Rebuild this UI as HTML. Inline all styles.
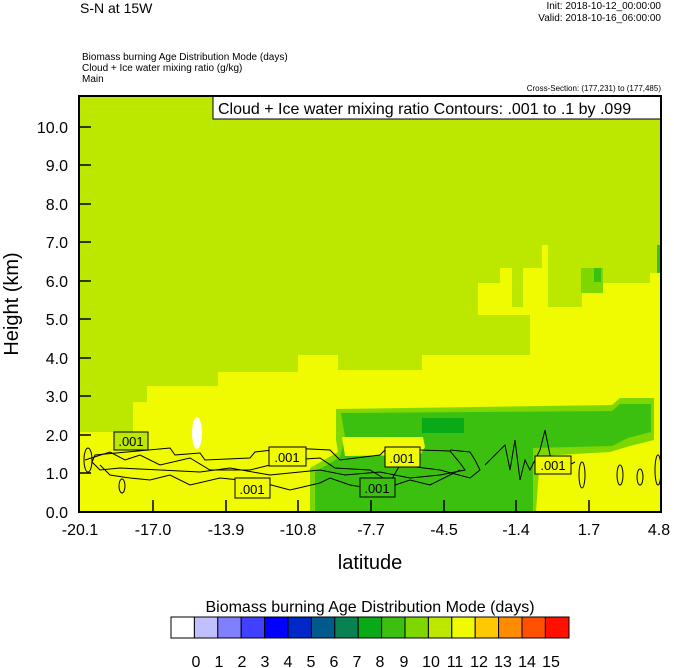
<!DOCTYPE html>
<html><head><style>body{margin:0;background:#fff}svg{display:block}</style></head>
<body>
<svg width="674" height="668" viewBox="0 0 674 668" xmlns="http://www.w3.org/2000/svg" font-family="Liberation Sans, sans-serif">
<rect width="674" height="668" fill="#fff"/>
<text x="80" y="13" font-size="14">S-N at 15W</text>
<text x="661" y="9" font-size="10" text-anchor="end">Init: 2018-10-12_00:00:00</text>
<text x="661" y="21" font-size="10" text-anchor="end">Valid: 2018-10-16_06:00:00</text>
<text x="82" y="60" font-size="10">Biomass burning Age Distribution Mode   (days)</text>
<text x="82" y="71" font-size="10">Cloud + Ice water mixing ratio   (g/kg)</text>
<text x="82" y="82" font-size="10">Main</text>
<text x="661" y="91" font-size="8" text-anchor="end">Cross-Section: (177,231) to (177,485)</text>
<!-- plot -->
<rect x="79" y="96" width="582" height="416" fill="#f0fa00"/>
<polygon fill="#bce800" points="79,96 661,96 661,273 650,273 650,283 582,283 582,307 548,307 548,245 542,245 542,268 523,268 523,307 512,307 512,268 500,268 500,283 478,283 478,315 530,315 530,355 422,355 422,370 338,370 338,355 298,355 298,372 218,372 218,386 147,386 147,402 133,402 133,432 79,432"/>
<rect x="581" y="268" width="22" height="25" fill="#7ed800"/>
<rect x="594" y="268" width="7" height="14" fill="#3cc010"/>
<rect x="657" y="245" width="4" height="28" fill="#3cc010"/>
<!-- green band -->
<path fill="#7ed800" d="M336,409 L612,405 L620,398 L654,398 L654,440 L630,446 L610,452 L540,456 L536,512 L310,512 L310,468 L338,452 L336,440 Z"/>
<path fill="#3cc010" d="M341,413 L612,411 L620,404 L651,404 L651,432 L628,438 L612,446 L533,448 L533,512 L315,512 L315,472 L340,457 L345,437 Z"/>
<path fill="#f0fa00" d="M342,437 L423,437 L425,447 L420,455 L345,456 Z"/>
<rect x="422" y="418" width="42" height="15" fill="#08aa18"/>
<ellipse cx="197" cy="433" rx="5" ry="16" fill="#fff"/>
<!-- contours -->
<g fill="none" stroke="#000" stroke-width="1">
<path d="M95,455 L170,448 L175,455 L200,453 L205,460 L250,458 L255,452 L290,448 L330,450 L340,460 L380,455 L385,450 L420,450 L450,451 L460,463 L465,470 L440,475 L410,478 L380,472 L345,475 L320,470 L270,475 L230,468 L200,472 L160,470 L120,468 L100,470 L92,462 Z"/>
<path d="M85,460 L110,452 L125,460 L140,455 L160,465 L190,458 L210,470 L250,470 L290,460 L320,458 L335,468 L370,470 L390,482 L400,465 L440,470 L470,478 L480,470 L475,460 L470,452 L450,450"/>
<path d="M100,465 L110,475 L130,478 L150,480 L170,475 L190,485 L220,478 L260,482 L290,490 L320,483 L330,478 L350,485 L380,490 L410,480 L430,485 L460,470"/>
<path d="M485,465 L495,455 L505,445 L510,470 L515,440 L520,480 L525,460 L530,470 L540,450 L545,430 L550,455 L560,470 L575,462"/>
<ellipse cx="620" cy="475" rx="3" ry="10"/><ellipse cx="640" cy="477" rx="3" ry="8"/><ellipse cx="658" cy="470" rx="3" ry="15"/>
<ellipse cx="582" cy="475" rx="3" ry="13"/><ellipse cx="122" cy="486" rx="3" ry="7"/><ellipse cx="88" cy="460" rx="4" ry="12"/>
</g>
<g font-size="13" text-anchor="middle">
<rect x="114" y="432" width="34" height="18" fill="#bce800" stroke="#000"/><text x="131" y="446">.001</text>
<rect x="269" y="447" width="37" height="19" fill="#f0fa00" stroke="#000"/><text x="287" y="462">.001</text>
<rect x="235" y="478" width="35" height="20" fill="#f0fa00" stroke="#000"/><text x="252" y="494">.001</text>
<rect x="385" y="447" width="35" height="20" fill="#f0fa00" stroke="#000"/><text x="402" y="463">.001</text>
<rect x="360" y="478" width="35" height="19" fill="#3cc010" stroke="#000"/><text x="377" y="493">.001</text>
<rect x="535" y="456" width="36" height="18" fill="#f0fa00" stroke="#000"/><text x="553" y="470">.001</text>
</g>
<!-- legend box -->
<rect x="213" y="96" width="448" height="23" fill="#fff" stroke="#000"/>
<text x="218" y="114" font-size="16">Cloud + Ice water mixing ratio Contours: .001 to .1 by .099</text>
<rect x="79" y="96" width="582" height="416" fill="none" stroke="#000" stroke-width="2"/>
<!-- ticks -->
<g stroke="#000" stroke-width="1.5">
<line x1="79" y1="127" x2="91" y2="127"/><line x1="79" y1="165" x2="91" y2="165"/><line x1="79" y1="204" x2="91" y2="204"/><line x1="79" y1="242" x2="91" y2="242"/><line x1="79" y1="281" x2="91" y2="281"/><line x1="79" y1="319" x2="91" y2="319"/><line x1="79" y1="358" x2="91" y2="358"/><line x1="79" y1="396" x2="91" y2="396"/><line x1="79" y1="435" x2="91" y2="435"/><line x1="79" y1="473" x2="91" y2="473"/>
<line x1="153" y1="512" x2="153" y2="500"/><line x1="226" y1="512" x2="226" y2="500"/><line x1="298" y1="512" x2="298" y2="500"/><line x1="371" y1="512" x2="371" y2="500"/><line x1="444" y1="512" x2="444" y2="500"/><line x1="516" y1="512" x2="516" y2="500"/><line x1="589" y1="512" x2="589" y2="500"/>
</g>
<g font-size="16" text-anchor="end">
<text x="68" y="133">10.0</text><text x="68" y="171">9.0</text><text x="68" y="210">8.0</text><text x="68" y="248">7.0</text><text x="68" y="287">6.0</text><text x="68" y="325">5.0</text><text x="68" y="364">4.0</text><text x="68" y="402">3.0</text><text x="68" y="441">2.0</text><text x="68" y="479">1.0</text><text x="68" y="518">0.0</text>
</g>
<g font-size="16" text-anchor="middle">
<text x="80" y="535">-20.1</text><text x="153" y="535">-17.0</text><text x="226" y="535">-13.9</text><text x="298" y="535">-10.8</text><text x="371" y="535">-7.7</text><text x="444" y="535">-4.5</text><text x="516" y="535">-1.4</text><text x="589" y="535">1.7</text><text x="659" y="535">4.8</text>
</g>
<text x="370" y="569" font-size="20" text-anchor="middle">latitude</text>
<text transform="translate(18,304) rotate(-90)" font-size="20" text-anchor="middle">Height (km)</text>
<text x="370" y="612" font-size="16" text-anchor="middle">Biomass burning Age Distribution Mode  (days)</text>
<g stroke="#000" stroke-width="1">
<rect x="171" y="617" width="23.4" height="21" fill="#fff"/>
<rect x="194.4" y="617" width="23.4" height="21" fill="#c0c0ff"/>
<rect x="217.8" y="617" width="23.4" height="21" fill="#8080ff"/>
<rect x="241.2" y="617" width="23.4" height="21" fill="#4040ff"/>
<rect x="264.6" y="617" width="23.4" height="21" fill="#0000ff"/>
<rect x="288" y="617" width="23.4" height="21" fill="#0028c8"/>
<rect x="311.4" y="617" width="23.4" height="21" fill="#005a8c"/>
<rect x="334.8" y="617" width="23.4" height="21" fill="#088250"/>
<rect x="358.2" y="617" width="23.4" height="21" fill="#08aa18"/>
<rect x="381.6" y="617" width="23.4" height="21" fill="#3cc010"/>
<rect x="405" y="617" width="23.4" height="21" fill="#7ed800"/>
<rect x="428.4" y="617" width="23.4" height="21" fill="#bce800"/>
<rect x="451.8" y="617" width="23.4" height="21" fill="#f0fa00"/>
<rect x="475.2" y="617" width="23.4" height="21" fill="#ffc800"/>
<rect x="498.6" y="617" width="23.4" height="21" fill="#ff8c00"/>
<rect x="522" y="617" width="23.4" height="21" fill="#ff5000"/>
<rect x="545.4" y="617" width="23.6" height="21" fill="#ff1000"/>
</g>
<g font-size="16" text-anchor="middle">
<text x="196" y="667">0</text><text x="219" y="667">1</text><text x="242" y="667">2</text><text x="265" y="667">3</text><text x="288" y="667">4</text><text x="311" y="667">5</text><text x="334" y="667">6</text><text x="357" y="667">7</text><text x="380" y="667">8</text><text x="404" y="667">9</text><text x="431" y="667">10</text><text x="455" y="667">11</text><text x="479" y="667">12</text><text x="503" y="667">13</text><text x="527" y="667">14</text><text x="551" y="667">15</text>
</g>
</svg>
</body></html>
